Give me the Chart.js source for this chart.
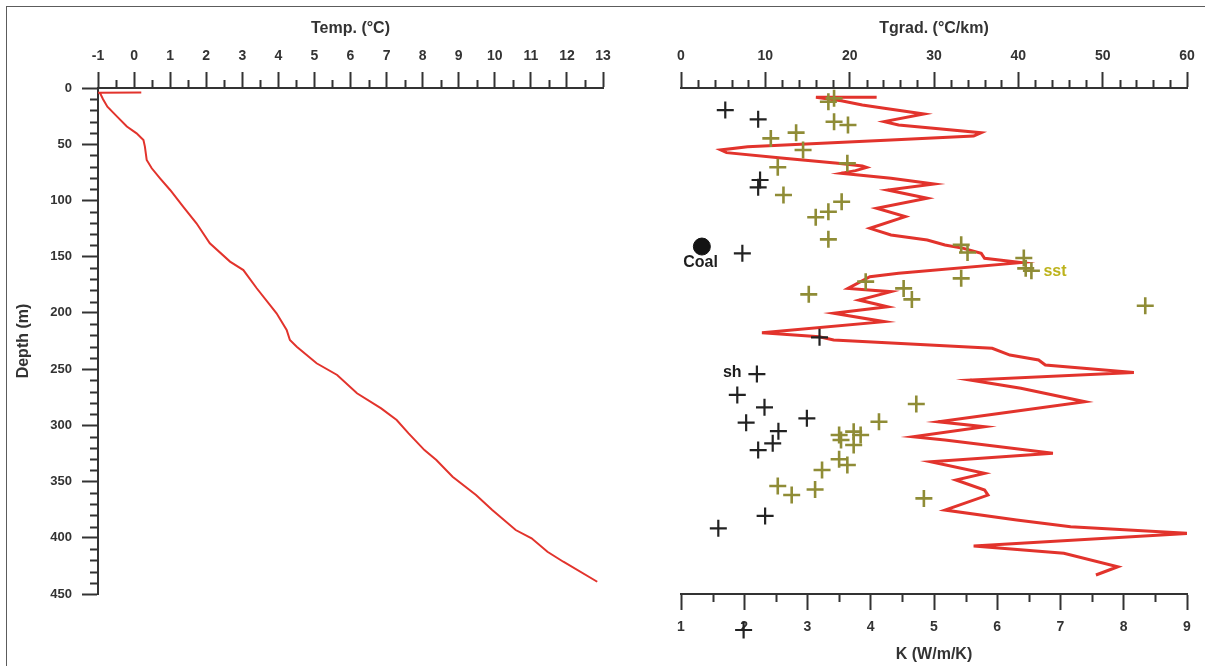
<!DOCTYPE html>
<html>
<head>
<meta charset="utf-8">
<script src="https://cdn.jsdelivr.net/npm/chart.js@4.4.1/dist/chart.umd.min.js"></script>
<style>
  html, body { margin: 0; padding: 0; background: #fff; }
  #wrap { position: relative; width: 1205px; height: 666px; overflow: hidden; }
  #frame { position: absolute; left: 6px; top: 6px; width: 1210px; height: 670px;
           border-top: 1.5px solid #5c5c5c; border-left: 1.5px solid #5c5c5c; }
  #tempChart { position: absolute; left: 0; top: 0; }
  #gradChart { position: absolute; left: 640px; top: 0; }
</style>
</head>
<body>
<div id="wrap">
  <div id="frame"></div>
  <canvas id="tempChart" width="640" height="666"></canvas>
  <canvas id="gradChart" width="565" height="666"></canvas>
</div>
<script>
// temperature log (depth m, temp °C)
const tempDepths = [4, 4.2, 4.7, 10, 16.6, 25.5, 34.3, 40.3, 46.2, 52.1, 64, 71.4, 80.3, 90.7,
  105.5, 120.3, 138.1, 154.4, 161.9, 178.1, 200.4, 215.2, 224.1, 230.1, 244.8, 255.2, 271.5,
  284.9, 295.3, 307.1, 322, 330.8, 345.7, 362, 375.3, 393.1, 400.5, 412.4, 421.3, 439.1];
const tempValues = [0.2, -0.98, -0.94, -0.86, -0.74, -0.47, -0.2, 0.07, 0.26, 0.3, 0.35, 0.49, 0.72, 1.0,
  1.36, 1.73, 2.1, 2.66, 3.03, 3.4, 3.95, 4.23, 4.32, 4.51, 5.06, 5.63, 6.18,
  6.85, 7.28, 7.61, 8.05, 8.38, 8.83, 9.48, 9.93, 10.58, 11.02, 11.46, 11.9, 12.84];

// temperature gradient (depth m, °C/km)
const gradDepths = [8.3, 8.3, 11.3, 15.1, 18.1, 23.1, 29.9, 32.9, 39.7, 42.7, 46.2, 52.2, 55.1, 57.5,
  62.5, 67, 69.4, 70.6, 73.5, 75.9, 80.3, 85.4, 90.7, 98.1, 107, 114.4, 124.8, 130.7, 135.2, 139.6,
  142.6, 147, 151.5, 155.3, 164.8, 167.8, 178.2, 181.1, 188.6, 194.5, 200.4, 207.8, 217.6, 221.2,
  224.1, 231.5, 237.5, 241.9, 246.4, 253.1, 259.7, 267.1, 279, 289.4, 296.8, 301.2, 310.1, 313.1,
  324.9, 332.3, 342.7, 348.6, 357.5, 362, 375.3, 384.2, 390.1, 396.1, 407.3, 413.8, 425.7, 433.1];
const gradValues = [23.2, 16.0, 19.0, 21.5, 24.1, 28.8, 24.1, 25.8, 35.6, 34.7, 24.9, 7.9, 4.7, 5.4,
  12.2, 18.6, 21.5, 22.0, 20.7, 19.0, 24.9, 30.0, 24.5, 29.2, 23.2, 26.6, 22.4, 24.9, 29.2, 31.3,
  33.5, 35.6, 36.0, 40.3, 25.8, 22.4, 19.8, 24.9, 21.1, 24.5, 18.1, 24.1, 9.6, 16.4,
  18.1, 36.9, 39.0, 42.4, 43.2, 53.7, 34.3, 40.3, 47.9, 37.7, 30.5, 36.0, 27.5, 31.3,
  44.1, 29.6, 36.0, 32.6, 36.0, 36.4, 31.3, 39.8, 46.2, 60.3, 34.7, 45.4, 51.8, 49.2];

// thermal conductivity, shale samples (black) and sandstone samples (olive)
const shDepths = [19.6, 27.9, 81.8, 88.3, 147, 221.7, 254.4, 273, 284, 297.6, 293.8, 305.2, 316, 322,
  380.6, 391.6, 482];
const shK = [1.70, 2.22, 2.25, 2.22, 1.97, 3.19, 2.20, 1.89, 2.32, 2.03, 2.99, 2.54, 2.45, 2.22,
  2.33, 1.59, 1.99];
const sstDepths = [9.2, 12.2, 30, 32.9, 39.7, 44.8, 55.1, 67, 70.5, 95.2, 101.1, 110, 115, 134.6,
  139.5, 146.3, 151.2, 160.4, 162.5, 169.3, 172.2, 178.2, 188, 183.5, 193.6, 281, 296.8, 308.6,
  305.6, 308.6, 313, 317.5, 330.2, 335.3, 339.7, 354, 362, 357, 365];
const sstK = [3.42, 3.33, 3.42, 3.64, 2.82, 2.42, 2.93, 3.63, 2.53, 2.62, 3.54, 3.33, 3.13, 3.33,
  5.43, 5.53, 6.42, 6.45, 6.54, 5.43, 3.92, 4.52, 4.65, 3.02, 8.34, 4.72, 4.13, 3.50,
  3.73, 3.84, 3.53, 3.73, 3.50, 3.63, 3.23, 2.53, 2.75, 3.12, 4.84];
const coalDepths = [141];
const coalK = [1.33];

// text labels placed in data units (K, depth)
const noteTexts = ['Coal', 'sh', 'sst'];
const noteK = [1.31, 1.81, 6.73];
const noteDepth = [155.5, 253.5, 163];

const FONT = '"Liberation Sans", Arial, Helvetica, sans-serif';
const INK = '#333333';
const RED = '#e2332c';
Chart.defaults.font.family = FONT;

const pts = (xs, ys) => xs.map((x, i) => ({ x: x, y: ys[i] }));
const tickFont = { family: FONT, size: 14, weight: 'bold' };
const titleFont = { family: FONT, size: 16, weight: 'bold' };
const gridOpts = { drawOnChartArea: false, drawTicks: true, tickLength: 16, tickWidth: 2, tickColor: INK };
const borderOpts = { display: true, color: INK, width: 2 };

// short ticks between the labelled ones
const minorTicks = {
  id: 'minorTicks',
  afterDraw(chart, args, opts) {
    const ctx = chart.ctx;
    ctx.save();
    ctx.strokeStyle = INK;
    ctx.lineWidth = 2;
    ctx.beginPath();
    (opts.specs || []).forEach(({ id, step, len }) => {
      const s = chart.scales[id];
      const n = Math.round((s.max - s.min) / step);
      const majors = s.ticks.map(t => t.value);
      for (let i = 0; i <= n; i++) {
        const v = s.min + i * step;
        if (majors.some(m => Math.abs(m - v) < 1e-6)) continue;
        const p = Math.round(s.getPixelForValue(v)) + 0.5;
        if (s.position === 'top') { ctx.moveTo(p, s.bottom); ctx.lineTo(p, s.bottom - len); }
        else if (s.position === 'bottom') { ctx.moveTo(p, s.top); ctx.lineTo(p, s.top + len); }
        else { ctx.moveTo(s.right, p); ctx.lineTo(s.right - len, p); }
      }
    });
    ctx.stroke();
    ctx.restore();
  }
};

// chart.js skips points outside the chart area; draw those of unclipped datasets
const outsidePoints = {
  id: 'outsidePoints',
  afterDatasetsDraw(chart) {
    const ctx = chart.ctx;
    const a = chart.chartArea;
    chart.data.datasets.forEach((ds, i) => {
      if (ds.clip !== false) return;
      chart.getDatasetMeta(i).data.forEach(el => {
        if (el.x >= a.left && el.x <= a.right && el.y >= a.top && el.y <= a.bottom) return;
        const o = el.options;
        ctx.save();
        ctx.strokeStyle = o.borderColor;
        ctx.fillStyle = o.backgroundColor;
        ctx.lineWidth = o.borderWidth;
        Chart.helpers.drawPoint(ctx, o, el.x, el.y);
        ctx.restore();
      });
    });
  }
};

const notes = {
  id: 'notes',
  afterDatasetsDraw(chart) {
    const ctx = chart.ctx;
    const xs = chart.scales.xK, ys = chart.scales.y;
    ctx.save();
    ctx.font = 'bold 16px ' + FONT;
    ctx.textBaseline = 'middle';
    noteTexts.forEach((t, i) => {
      const x = xs.getPixelForValue(noteK[i]);
      const y = ys.getPixelForValue(noteDepth[i]);
      if (t === 'sst') { ctx.fillStyle = '#bdb31c'; ctx.textAlign = 'left'; }
      else { ctx.fillStyle = '#1e1e1e'; ctx.textAlign = 'center'; }
      ctx.fillText(t, x, y);
    });
    ctx.restore();
  }
};

new Chart(document.getElementById('tempChart'), {
  type: 'scatter',
  data: {
    datasets: [{
      data: pts(tempValues, tempDepths),
      showLine: true,
      borderColor: RED,
      borderWidth: 2,
      pointRadius: 0,
      tension: 0
    }]
  },
  options: {
    responsive: false,
    animation: false,
    events: [],
    layout: { padding: { left: 0, top: 0, right: 37, bottom: 72 } },
    plugins: {
      legend: { display: false },
      tooltip: { enabled: false },
      minorTicks: { specs: [{ id: 'x', step: 0.5, len: 8 }, { id: 'y', step: 10, len: 8 }] }
    },
    scales: {
      x: {
        type: 'linear', position: 'top', min: -1, max: 13,
        ticks: { stepSize: 1, font: tickFont, color: INK, padding: 7, maxRotation: 0, autoSkip: false },
        grid: gridOpts,
        border: borderOpts,
        title: { display: true, text: 'Temp. (°C)', font: titleFont, color: INK, padding: { top: 19, bottom: 0 } },
        afterFit: s => { s.height = 88; }
      },
      y: {
        type: 'linear', position: 'left', reverse: true, min: 0, max: 450,
        ticks: { stepSize: 50, font: { family: FONT, size: 13, weight: 'bold' }, color: INK, padding: 10 },
        grid: gridOpts,
        border: borderOpts,
        title: { display: true, text: 'Depth (m)', font: titleFont, color: INK, padding: { top: 14, bottom: 0 } },
        afterFit: s => { s.width = 98; }
      }
    }
  },
  plugins: [minorTicks]
});

new Chart(document.getElementById('gradChart'), {
  type: 'scatter',
  data: {
    datasets: [
      {
        data: pts(coalK, coalDepths),
        xAxisID: 'xK', yAxisID: 'y',
        pointStyle: 'circle', pointRadius: 8.5,
        backgroundColor: '#141414', borderColor: '#141414', borderWidth: 1
      },
      {
        data: pts(shK, shDepths),
        xAxisID: 'xK', yAxisID: 'y',
        pointStyle: 'cross', pointRadius: 8.5,
        borderColor: '#222222', borderWidth: 2.2,
        clip: false
      },
      {
        data: pts(sstK, sstDepths),
        xAxisID: 'xK', yAxisID: 'y',
        pointStyle: 'cross', pointRadius: 8.5,
        borderColor: '#8f8c36', borderWidth: 2.6
      },
      {
        data: pts(gradValues, gradDepths),
        xAxisID: 'xT', yAxisID: 'y',
        showLine: true,
        borderColor: RED, borderWidth: 3,
        pointRadius: 0, tension: 0
      }
    ]
  },
  options: {
    responsive: false,
    animation: false,
    events: [],
    layout: { padding: { left: 41, top: 0, right: 18, bottom: 0 } },
    plugins: {
      legend: { display: false },
      tooltip: { enabled: false },
      minorTicks: { specs: [{ id: 'xT', step: 2, len: 8 }, { id: 'xK', step: 0.5, len: 8 }] }
    },
    scales: {
      xT: {
        type: 'linear', position: 'top', min: 0, max: 60,
        ticks: { stepSize: 10, font: tickFont, color: INK, padding: 7, maxRotation: 0, autoSkip: false },
        grid: gridOpts,
        border: borderOpts,
        title: { display: true, text: 'Tgrad. (°C/km)', font: titleFont, color: INK, padding: { top: 19, bottom: 0 } },
        afterFit: s => { s.height = 88; }
      },
      xK: {
        type: 'linear', position: 'bottom', min: 1, max: 9,
        ticks: { stepSize: 1, font: tickFont, color: INK, padding: 9, maxRotation: 0, autoSkip: false },
        grid: gridOpts,
        border: borderOpts,
        title: { display: true, text: 'K (W/m/K)', font: titleFont, color: INK, padding: { top: 0, bottom: 2 } },
        afterFit: s => { s.height = 72; }
      },
      y: {
        type: 'linear', reverse: true, min: 0, max: 450, display: false
      }
    }
  },
  plugins: [minorTicks, outsidePoints, notes]
});
</script>
</body>
</html>
